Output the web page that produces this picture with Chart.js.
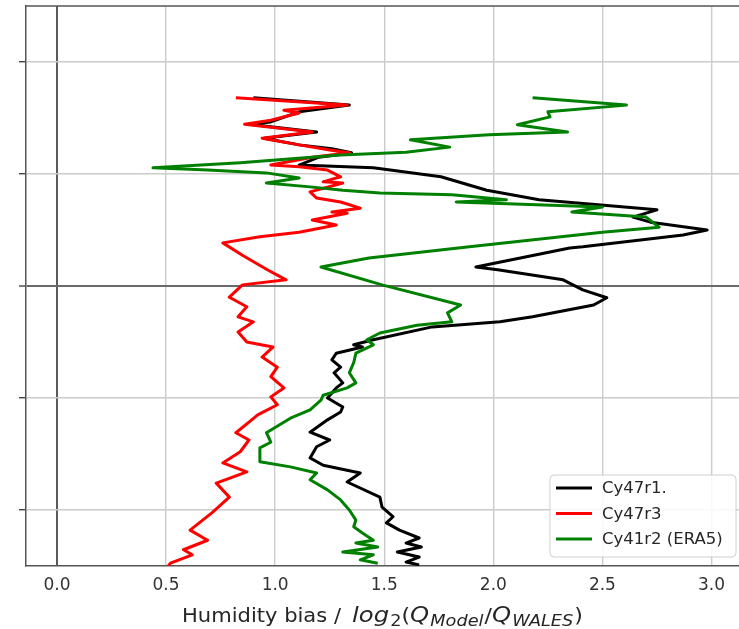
<!DOCTYPE html>
<html>
<head>
<meta charset="utf-8">
<script src="https://cdn.jsdelivr.net/npm/chart.js@4/dist/chart.umd.min.js"></script>
<style>
  html, body { margin: 0; padding: 0; background: #fff; }
  #wrap { width: 739px; height: 629px; position: relative; }
</style>
</head>
<body>
<div id="wrap"><canvas id="myChart"></canvas></div>
<script>
// altitude levels (arbitrary km-like units) and humidity bias per run
const cy47r1Alt  = [9.36, 9.23, 9.11, 8.93, 8.89, 8.75, 8.64, 8.52, 8.45, 8.38, 8.30, 8.16, 8.11, 7.95, 7.71, 7.54, 7.36, 7.23, 7.14, 7.00, 6.91, 6.70, 6.68, 6.34, 6.29, 6.11, 5.93, 5.79, 5.66, 5.45, 5.36, 5.27, 5.04, 4.95, 4.91, 4.80, 4.68, 4.55, 4.45, 4.27, 4.18, 4.00, 3.84, 3.75, 3.61, 3.39, 3.25, 3.13, 2.93, 2.80, 2.66, 2.50, 2.23, 2.05, 1.88, 1.77, 1.64, 1.50, 1.41, 1.34, 1.25, 1.16, 1.07, 1.02];
const cy47r1Bias = [0.90, 1.34, 1.11, 0.98, 0.88, 1.19, 0.95, 1.11, 1.26, 1.35, 1.20, 1.11, 1.45, 1.76, 1.97, 2.21, 2.75, 2.64, 2.72, 2.98, 2.87, 2.41, 2.35, 1.92, 2.02, 2.32, 2.41, 2.52, 2.46, 2.18, 2.03, 1.72, 1.45, 1.36, 1.40, 1.28, 1.26, 1.30, 1.27, 1.31, 1.28, 1.24, 1.31, 1.30, 1.24, 1.16, 1.25, 1.19, 1.16, 1.22, 1.39, 1.33, 1.48, 1.49, 1.54, 1.51, 1.57, 1.66, 1.60, 1.67, 1.56, 1.66, 1.60, 1.66];

const cy47r3Alt  = [9.36, 9.23, 9.14, 9.09, 8.96, 8.89, 8.75, 8.64, 8.52, 8.43, 8.38, 8.30, 8.16, 8.13, 8.07, 7.95, 7.86, 7.84, 7.68, 7.57, 7.50, 7.39, 7.32, 7.30, 7.18, 7.09, 6.96, 6.88, 6.77, 6.55, 6.30, 6.11, 6.02, 5.80, 5.63, 5.45, 5.36, 5.18, 5.00, 4.91, 4.73, 4.55, 4.38, 4.18, 4.02, 3.88, 3.70, 3.57, 3.38, 3.25, 3.04, 2.84, 2.68, 2.48, 2.23, 1.95, 1.64, 1.46, 1.29, 1.20, 1.05, 1.00];
const cy47r3Bias = [0.82, 1.33, 1.04, 1.11, 0.98, 0.86, 1.17, 0.94, 1.11, 1.25, 1.34, 1.17, 0.98, 1.11, 1.24, 1.30, 1.22, 1.31, 1.16, 1.19, 1.30, 1.39, 1.26, 1.33, 1.17, 1.28, 1.11, 0.93, 0.76, 0.85, 0.96, 1.05, 0.85, 0.79, 0.87, 0.83, 0.90, 0.83, 0.87, 0.99, 0.94, 1.01, 0.98, 1.04, 0.98, 1.01, 0.92, 0.88, 0.82, 0.88, 0.84, 0.76, 0.87, 0.73, 0.79, 0.71, 0.61, 0.69, 0.58, 0.62, 0.52, 0.51];

const cy41r2Alt  = [9.36, 9.23, 9.11, 9.02, 8.88, 8.75, 8.70, 8.61, 8.48, 8.39, 8.34, 8.20, 8.11, 8.07, 8.02, 7.93, 7.84, 7.77, 7.71, 7.66, 7.63, 7.54, 7.50, 7.41, 7.32, 7.23, 7.05, 6.96, 6.70, 6.50, 6.34, 6.02, 5.66, 5.52, 5.36, 5.30, 5.16, 5.04, 4.95, 4.80, 4.63, 4.45, 4.27, 4.18, 4.05, 3.96, 3.79, 3.64, 3.38, 3.21, 3.11, 2.86, 2.77, 2.66, 2.54, 2.36, 2.18, 2.00, 1.82, 1.70, 1.59, 1.46, 1.41, 1.34, 1.25, 1.20, 1.11, 1.05];
const cy41r2Bias = [2.18, 2.61, 2.25, 2.26, 2.11, 2.34, 1.98, 1.62, 1.80, 1.60, 1.30, 0.84, 0.44, 0.69, 0.96, 1.11, 0.96, 1.16, 1.31, 1.48, 1.81, 2.06, 1.83, 2.50, 2.36, 2.70, 2.76, 2.50, 1.89, 1.43, 1.21, 1.49, 1.85, 1.79, 1.81, 1.65, 1.48, 1.42, 1.45, 1.37, 1.36, 1.34, 1.37, 1.33, 1.22, 1.21, 1.16, 1.07, 0.96, 0.98, 0.93, 0.93, 1.07, 1.19, 1.16, 1.24, 1.30, 1.34, 1.37, 1.36, 1.40, 1.45, 1.37, 1.47, 1.31, 1.45, 1.39, 1.47];

const runLabels = ['Cy47r1.', 'Cy47r3', 'Cy41r2 (ERA5)'];
const xTicks = [0.0, 0.5, 1.0, 1.5, 2.0, 2.5, 3.0];
const altTicks = [2, 4, 6, 8, 10];

const FONT = 'DejaVu Sans';
const toPts = (alt, bias) => alt.map((a, i) => ({x: bias[i], y: a}));

// matplotlib style legend box in the lower right
const legendBox = {
    id: 'legendBox',
    afterDraw(chart) {
        const ctx = chart.ctx;
        const x0 = 550, y0 = 475, w = 186, h = 82, r = 4;
        ctx.save();
        ctx.beginPath();
        ctx.moveTo(x0 + r, y0);
        ctx.arcTo(x0 + w, y0, x0 + w, y0 + h, r);
        ctx.arcTo(x0 + w, y0 + h, x0, y0 + h, r);
        ctx.arcTo(x0, y0 + h, x0, y0, r);
        ctx.arcTo(x0, y0, x0 + w, y0, r);
        ctx.closePath();
        ctx.fillStyle = 'rgba(255,255,255,0.85)';
        ctx.fill();
        ctx.strokeStyle = '#d0d0d0';
        ctx.lineWidth = 1;
        ctx.stroke();
        chart.data.datasets.forEach((d, i) => {
            const y = 488 + i * 25.5;
            ctx.strokeStyle = d.borderColor;
            ctx.lineWidth = 3;
            ctx.beginPath();
            ctx.moveTo(556, y);
            ctx.lineTo(592, y);
            ctx.stroke();
            ctx.fillStyle = '#262626';
            ctx.font = '16.5px "' + FONT + '"';
            ctx.textBaseline = 'middle';
            ctx.fillText(d.label, 602, y + 1);
        });
        ctx.restore();
    }
};

// top spine plus x axis label with mathtext-like subscripts
const frameAndTitle = {
    id: 'frameAndTitle',
    afterDraw(chart) {
        const ctx = chart.ctx;
        const a = chart.chartArea;
        ctx.save();
        ctx.strokeStyle = '#555';
        ctx.lineWidth = 1.5;
        ctx.beginPath();
        ctx.moveTo(a.left, a.top);
        ctx.lineTo(a.right, a.top);
        ctx.stroke();

        const reg = '20px "' + FONT + '"';
        const it = 'italic 22px "' + FONT + '"';
        const sub = '16px "' + FONT + '"';
        const itSub = 'italic 16px "' + FONT + '"';
        // [text, font, baseline shift, extra gap after]
        const groups = [
            {x0: 182, x1: 341, parts: [['Humidity bias /', reg, 0, 0]]},
            {x0: 352, x1: 583, parts: [
                ['log', it, 0, 1], ['2', sub, 4, 0], ['(', reg, 0, 0], ['Q', it, 0, 1],
                ['Model', itSub, 4, 1], ['/', reg, 0, 0], ['Q', it, 0, 1],
                ['WALES', itSub, 4, 1], [')', reg, 0, 0]
            ]}
        ];
        const base = 622;
        ctx.fillStyle = '#262626';
        ctx.textBaseline = 'alphabetic';
        groups.forEach(g => {
            let total = 0;
            g.parts.forEach(p => { ctx.font = p[1]; p.w = ctx.measureText(p[0]).width + p[3]; total += p.w; });
            const sx = (g.x1 - g.x0) / total;
            ctx.save();
            ctx.translate(g.x0, 0);
            ctx.scale(sx, 1);
            let x = 0;
            g.parts.forEach(p => {
                ctx.font = p[1];
                ctx.fillText(p[0], x, base + p[2]);
                x += p.w;
            });
            ctx.restore();
        });
        ctx.restore();
    }
};

const ctx = document.getElementById('myChart').getContext('2d');
const myChart = new Chart(ctx, {
    type: 'scatter',
    data: {
        datasets: [{
            label: runLabels[0],
            data: toPts(cy47r1Alt, cy47r1Bias),
            borderColor: '#000000',
            order: 3
        }, {
            label: runLabels[1],
            data: toPts(cy47r3Alt, cy47r3Bias),
            borderColor: '#ff0000',
            order: 2
        }, {
            label: runLabels[2],
            data: toPts(cy41r2Alt, cy41r2Bias),
            borderColor: '#008000',
            order: 1
        }].map(d => Object.assign(d, {
            showLine: true, pointRadius: 0, borderWidth: 3,
            borderJoinStyle: 'round', tension: 0, fill: false
        }))
    },
    options: {
        responsive: true,
        maintainAspectRatio: false,
        animation: false,
        layout: {padding: {top: 6, right: 0, bottom: 0, left: 0}},
        plugins: {legend: {display: false}, tooltip: {enabled: false}},
        scales: {
            x: {
                type: 'linear',
                min: -0.142,
                max: 3.126,
                afterBuildTicks: s => { s.ticks = xTicks.map(v => ({value: v})); },
                afterFit: s => { s.height = 63; },
                grid: {
                    color: c => (c.tick && c.tick.value === 0) ? '#5a5a5a' : '#cccccc',
                    lineWidth: c => (c.tick && c.tick.value === 0) ? 2 : 1.4,
                    drawTicks: false
                },
                border: {color: '#555', width: 1.5},
                ticks: {
                    font: {family: FONT, size: 17},
                    color: '#333',
                    padding: 9,
                    callback: v => Number(v).toFixed(1)
                }
            },
            y: {
                type: 'linear',
                min: 1,
                max: 11,
                afterBuildTicks: s => { s.ticks = altTicks.map(v => ({value: v})); },
                afterFit: s => { s.width = 26; },
                grid: {
                    color: c => (c.tick && c.tick.value === 6) ? '#6a6a6a' : '#cccccc',
                    lineWidth: c => (c.tick && c.tick.value === 6) ? 2 : 1.4,
                    tickColor: '#444',
                    tickLength: 7,
                    tickWidth: 1.4
                },
                border: {color: '#555', width: 1.5},
                ticks: {display: false}
            }
        }
    },
    plugins: [legendBox, frameAndTitle]
});
</script>
</body>
</html>
